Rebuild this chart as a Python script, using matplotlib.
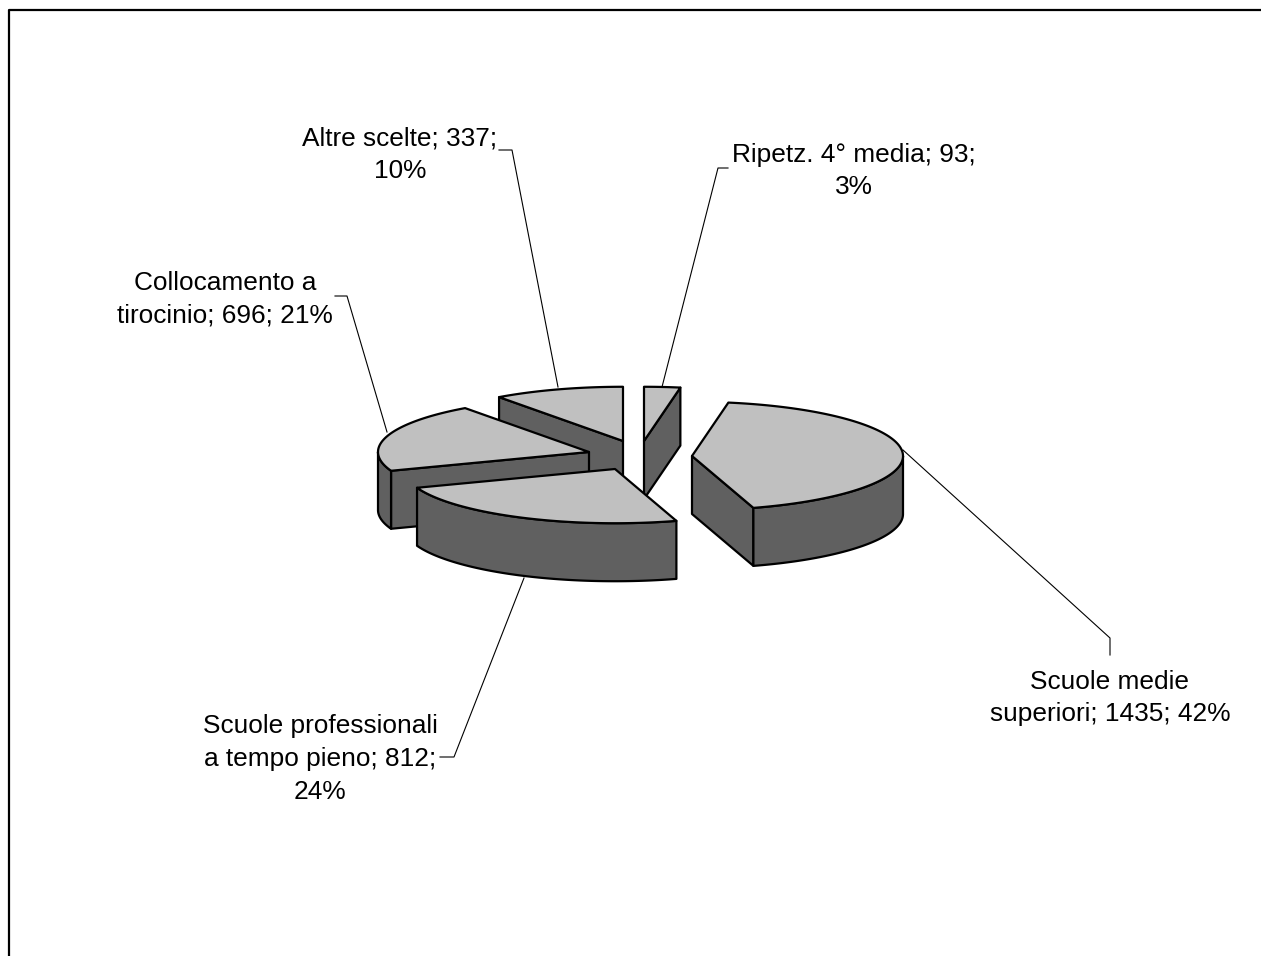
import numpy as np
import matplotlib
matplotlib.use("Agg")
import matplotlib.pyplot as plt
from matplotlib.patches import Polygon

# Clockwise from twelve o'clock
categories = ["Ripetz. 4° media", "Scuole medie superiori", "Scuole professionali a tempo pieno",
              "Collocamento a tirocinio", "Altre scelte"]
values = [93, 1435, 812, 696, 337]
labels = ["Ripetz. 4° media; 93;\n3%",
          "Scuole medie\nsuperiori; 1435; 42%",
          "Scuole professionali\na tempo pieno; 812;\n24%",
          "Collocamento a\ntirocinio; 696; 21%",
          "Altre scelte; 337;\n10%"]

# Layout, in pixels of the picture
apex = [(644, 441), (692, 456), (615, 469), (589, 452), (623, 441)]
label_xy = [(854, 171), (1110, 698), (320, 759), (225, 299), (400, 155)]
leaders = [[(728, 168), (718, 168), (662, 387)],
           [(1110, 655), (1110, 638), (903, 450)],
           [(440, 757), (454, 757), (524, 578)],
           [(335, 296), (347, 296), (387, 432)],
           [(499, 150), (512, 150), (558, 387)]]
draw_order = [4, 0, 1, 3, 2]
RADIUS = 211
SQUASH = 0.257
DEPTH = 58
TOP = "#c0c0c0"
SIDE = "#606060"


def rim(cx, cy, a0, a1):
    t = np.radians(np.linspace(a0, a1, max(int(a1 - a0) * 2, 2)))
    return np.column_stack([cx + RADIUS * np.sin(t), cy - RADIUS * SQUASH * np.cos(t)])


def face(pts, color, z):
    ax.add_patch(Polygon(pts, closed=True, facecolor=color, edgecolor="black",
                         linewidth=1.6, joinstyle="round", zorder=z))


fig = plt.figure(figsize=(12.61, 9.56), dpi=100)
ax = fig.add_axes([0, 0, 1, 1])
ax.set_xlim(0, 1261)
ax.set_ylim(956, 0)
ax.axis("off")

# chart frame, only left and top fall inside the picture
ax.plot([8.5, 8.5, 1261], [956, 9.5, 9.5], color="black", linewidth=1.6, zorder=1)

for pts in leaders:
    xs, ys = zip(*pts)
    ax.plot(xs, ys, color="black", linewidth=0.8, zorder=2)

edges = np.cumsum([0] + values) / sum(values) * 360
for n, i in enumerate(draw_order):
    a0, a1 = edges[i], edges[i + 1]
    cx, cy = apex[i]
    z = 3 + n * 0.1
    drop = np.array([0, DEPTH])
    # radial walls, only the ones turned toward the viewer
    for a, normal in ((a0, a0 - 90), (a1, a1 + 90)):
        if np.cos(np.radians(normal)) < -1e-6:
            end = rim(cx, cy, a, a + 1)[0]
            start = np.array([cx, cy])
            face([start, end, end + drop, start + drop], SIDE, z)
    # outer wall, front half of the rim only
    lo, hi = max(a0, 90), min(a1, 270)
    if hi > lo:
        arc = rim(cx, cy, lo, hi)
        face(np.vstack([arc, (arc + drop)[::-1]]), SIDE, z)
    face(np.vstack([[cx, cy], rim(cx, cy, a0, a1)]), TOP, z + 0.01)

for text, (x, y) in zip(labels, label_xy):
    ax.text(x, y, text, ha="center", va="center", fontsize=18.9,
            family="Liberation Sans", color="black", linespacing=1.45, zorder=6)

fig.savefig("out.png", dpi=100, facecolor="white")
plt.close(fig)
